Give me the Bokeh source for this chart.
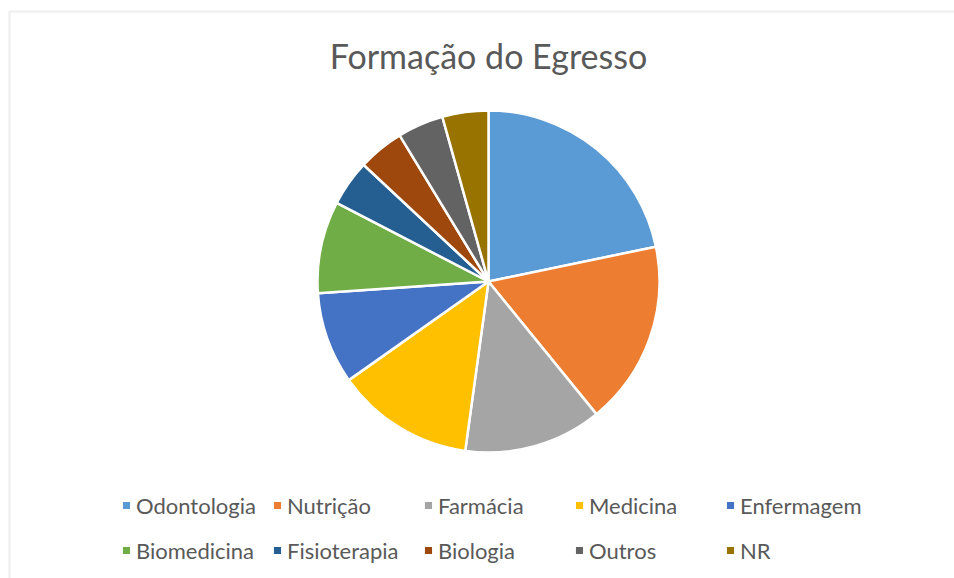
import numpy as np
from bokeh.plotting import figure
from bokeh.models import ColumnDataSource, Legend, LegendItem, Label, BoxAnnotation, Range1d
from bokeh.embed import file_html
from bokeh.resources import INLINE

categories = ["Odontologia", "Nutrição", "Farmácia", "Medicina", "Enfermagem",
              "Biomedicina", "Fisioterapia", "Biologia", "Outros", "NR"]
counts = [5, 4, 3, 3, 2, 2, 1, 1, 1, 1]
colors = ["#5B9BD5", "#ED7D31", "#A5A5A5", "#FFC000", "#4472C4",
          "#70AD47", "#255E91", "#9E480E", "#636363", "#997300"]
title_text = "Formação do Egresso"

W, H = 954, 578
FONT = "Lato"
TXT = "#595959"
CX, CY, R = 488.0, 297.0, 171

vals = np.array(counts, dtype=float)
frac = vals / vals.sum()
cum = np.concatenate([[0.0], np.cumsum(frac)])
start = np.pi / 2 - cum[:-1] * 2 * np.pi
end = np.pi / 2 - cum[1:] * 2 * np.pi

src = ColumnDataSource(dict(cat=categories, start=start, end=end, color=colors,
                            x=[CX] * len(categories), y=[CY] * len(categories)))

p = figure(width=W, height=H, output_backend="svg", toolbar_location=None,
           x_axis_type=None, y_axis_type=None, min_border=0,
           x_range=Range1d(0, W), y_range=Range1d(0, H))
p.grid.visible = False
p.outline_line_color = None
p.background_fill_color = "white"
p.border_fill_color = "white"

r = p.wedge(x="x", y="y", radius=R, start_angle="start", end_angle="end",
            direction="clock", fill_color="color", line_color="white",
            line_width=2.5, source=src)

# chart area border (top and left visible)
p.add_layout(BoxAnnotation(left=9, right=W + 20, bottom=-20, top=H - 11,
                           fill_alpha=0, line_color="#D0D0D0", line_width=2.5))

p.add_layout(Label(x=CX, y=H - 55, text=title_text, text_align="center",
                   text_baseline="middle", text_font=FONT, text_font_size="34px",
                   text_color=TXT))

items = [LegendItem(label=c, renderers=[r], index=i) for i, c in enumerate(categories)]
legend = Legend(items=items, ncols=5, orientation="horizontal",
                location=(120, 8), glyph_width=12, glyph_height=12,
                label_standoff=4, label_width=130, label_height=40, spacing=5,
                padding=0, margin=0, border_line_color=None,
                background_fill_alpha=0, label_text_font=FONT,
                label_text_font_size="22px", label_text_color=TXT)
p.add_layout(legend, "center")

open("out.html", "w").write(file_html(p, INLINE))
